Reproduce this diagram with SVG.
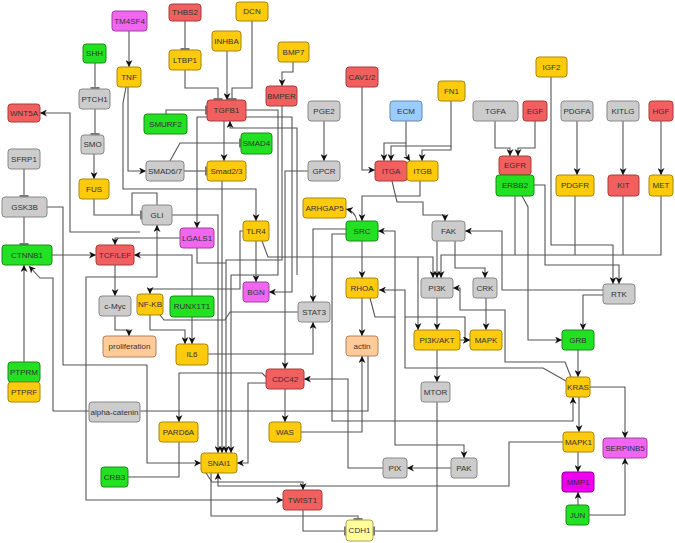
<svg xmlns="http://www.w3.org/2000/svg" width="675" height="543" viewBox="0 0 675 543">
<style>
.n rect{stroke-width:1;rx:3;ry:3}
.n text{font-family:"Liberation Sans",Arial,sans-serif;font-size:8px;fill:#333;text-anchor:middle;dominant-baseline:central}
.r rect{fill:#f25f5f;stroke:#a83c3c}
.y rect{fill:#fdca0c;stroke:#a8860a}
.g rect{fill:#22e022;stroke:#1a8a1a}
.s rect{fill:#cccccc;stroke:#888}
.m rect{fill:#f066f0;stroke:#a040a0}
.mm rect{fill:#ee00ee;stroke:#900090}
.p rect{fill:#ffcc99;stroke:#b08060}
.b rect{fill:#99ccff;stroke:#6688aa}
.ly rect{fill:#ffff99;stroke:#aaa060}
#edges path{fill:none;stroke:#555;stroke-width:1.1}
.a{marker-end:url(#ar)}
.t{marker-end:url(#tb)}
</style>
<defs>
<marker id="ar" viewBox="0 0 10 10" refX="10" refY="5" markerWidth="7" markerHeight="7" orient="auto" markerUnits="userSpaceOnUse"><path d="M0,0 L10,5 L0,10 L3,5 z" fill="#111"/></marker>
<marker id="ars" viewBox="0 0 10 10" refX="10" refY="5" markerWidth="7" markerHeight="7" orient="auto-start-reverse" markerUnits="userSpaceOnUse"><path d="M0,0 L10,5 L0,10 L3,5 z" fill="#111"/></marker>
<marker id="tb" viewBox="0 0 4 12" refX="3" refY="6" markerWidth="3" markerHeight="10" orient="auto" markerUnits="userSpaceOnUse"><rect x="0" y="0" width="4" height="12" fill="#777"/></marker>
</defs>
<g id="edges">
<path class="a" d="M129,31 V67"/>
<path class="t" d="M185,21 V50"/>
<path class="t" d="M95,63 V89"/>
<path class="t" d="M95,109 V135"/>
<path class="a" d="M94,154 V179"/>
<path class="a" d="M140,232 H70 V113 H40"/>
<path class="t" d="M24,169 V197"/>
<path class="t" d="M24,217 V245"/>
<path class="a" d="M47,207 H63 V365 H147 V463 H201"/>
<path class="a" d="M52,255 H96"/>
<path class="a" d="M24,362 V265"/>
<path class="a" d="M89,411 H53 V278 H40 L29,266"/>
<path d="M140,411 H368 V356"/>
<path class="a" d="M115,265 V296"/>
<path class="a" d="M115,316 V330 H129 V336"/>
<path class="a" d="M180,238 H115 V245"/>
<path class="a" d="M192,296 V255 H134"/>
<path class="a" d="M192,317 V344"/>
<path class="a" d="M150,315 V330 H185 V344"/>
<path class="a" d="M243,231 H240 V289 H150 V294"/>
<path d="M160,315 L164,320 H225 L230,312 H298"/>
<path class="a" d="M208,354 H313 V322"/>
<path class="a" d="M128,87 V171 H146"/>
<path class="a" d="M126,87 L123,103 V189 H256 V221"/>
<path class="t" d="M184,171 H207"/>
<path class="t" d="M170,161 L180,143 H241"/>
<path class="t" d="M166,114 V110 H207"/>
<path class="t" d="M252,21 V88 H232 V100"/>
<path class="a" d="M227,51 V100"/>
<path class="t" d="M185,70 V88 H218 V100"/>
<path class="a" d="M293,62 V72 H282 V86"/>
<path class="a" d="M207,117 H197 V228"/>
<path class="a" d="M224,121 V161"/>
<path class="a" d="M324,121 V161"/>
<path class="a" d="M362,87 V170 H375"/>
<path class="a" d="M406,121 V143 H384 V161"/>
<path class="a" d="M406,143 V155 L410,161"/>
<path class="a" d="M451,101 V146 H391 V161"/>
<path class="a" d="M451,146 V150 H422 V161"/>
<path class="a" d="M495,121 V148 H510 V156"/>
<path class="a" d="M535,121 V148 H518 V156"/>
<path class="a" d="M577,121 V175"/>
<path class="a" d="M623,121 V175"/>
<path class="a" d="M661,121 V175"/>
<path class="a" d="M551,77 V245 H613 V284"/>
<path class="a" d="M534,185 H545 V265 H619 V284"/>
<path d="M575,196 V255"/>
<path d="M623,196 V255"/>
<path d="M515,196 V255"/>
<path class="a" d="M661,196 V255 H441 V278"/>
<path class="a" d="M522,196 L528,207 V340 H562"/>
<path class="a" d="M603,290 H502 V231 H465"/>
<path class="a" d="M603,295 H583 V330"/>
<path class="a" d="M578,350 V377"/>
<path class="a" d="M571,377 L565,362 H505 V310 H460 V288 H453"/>
<path class="a" d="M590,387 H625 V438"/>
<path class="a" d="M346,234 H332 V421 H573 V397"/>
<path class="a" d="M579,397 V432"/>
<path class="a" d="M566,381 L543,368 H405 V290 H379"/>
<path class="a" d="M405,317 H465 V340 H470"/>
<path class="a" d="M578,452 V472"/>
<path class="a" d="M578,505 V492"/>
<path class="a" d="M589,515 H625 V458"/>
<path class="a" d="M563,442 H509 V486 H218 V473"/>
<path class="a" d="M206,473 L212,482 H303 V490"/>
<path style="marker-start:url(#ars);marker-end:url(#ars)" d="M157,225 V277 H86 V500 H283"/>
<path class="t" d="M211,473 V516 H358 V520"/>
<path class="t" d="M303,510 V531 H346"/>
<path class="t" d="M437,402 V531 H373"/>
<path class="a" d="M285,389 V422"/>
<path class="a" d="M266,377 L262,373 H179 V422"/>
<path class="a" d="M266,383 H248 V463 H237"/>
<path class="a" d="M383,468 H348 V379 H304"/>
<path class="a" d="M451,468 H407"/>
<path class="a" d="M370,298 L375,317 H395 V445 H464 V458"/>
<path class="a" d="M395,317 V231 H378"/>
<path d="M179,442 V477 H128"/>
<path class="a" d="M362,298 V336"/>
<path class="a" d="M301,432 H362 V356"/>
<path class="a" d="M362,241 V278"/>
<path class="a" d="M357,221 Q355,211 346,209"/>
<path class="a" d="M420,181 V196 H362 V221"/>
<path class="a" d="M392,181 L397,202 H423 V215 H445 V221"/>
<path class="a" d="M346,229 H313 V302"/>
<path class="a" d="M256,241 V282"/>
<path class="a" d="M262,241 L268,257 H433 V278"/>
<path class="a" d="M418,257 V330"/>
<path class="a" d="M437,298 V330"/>
<path class="a" d="M437,350 V382"/>
<path class="a" d="M486,298 V330"/>
<path class="a" d="M455,241 V268 H485 V278"/>
<path class="a" d="M437,241 V278"/>
<path class="a" d="M460,340 H470"/>
<path class="a" d="M308,171 H285 V369"/>
<path class="a" d="M246,117 H292 V292 H269"/>
<path class="a" d="M297,275 V128 H230 V121"/>
<path class="a" d="M246,110 H278 V275 H231 V453"/>
<path class="a" d="M282,106 V260 H226 V453"/>
<path class="a" d="M222,181 V453"/>
<path class="a" d="M172,215 H218 V453"/>
<path d="M197,248 V263 H226"/>
<path class="t" d="M94,199 V215 H142"/>
<path d="M157,205 V193 H132 V215"/>
</g>
<g id="TM4SF4" class="n m"><rect x="112" y="11" width="35" height="20"/><text x="129.5" y="21">TM4SF4</text></g>
<g id="THBS2" class="n r"><rect x="169" y="4" width="32" height="17"/><text x="185" y="12.5">THBS2</text></g>
<g id="DCN" class="n y"><rect x="236" y="2" width="32" height="19"/><text x="252" y="11.5">DCN</text></g>
<g id="INHBA" class="n y"><rect x="212" y="31" width="29" height="20"/><text x="226.5" y="41">INHBA</text></g>
<g id="SHH" class="n g"><rect x="83" y="44" width="23" height="19"/><text x="94.5" y="53.5">SHH</text></g>
<g id="BMP7" class="n y"><rect x="278" y="42" width="31" height="20"/><text x="293.5" y="52">BMP7</text></g>
<g id="TNF" class="n y"><rect x="117" y="67" width="24" height="20"/><text x="129" y="77">TNF</text></g>
<g id="LTBP1" class="n y"><rect x="169" y="50" width="32" height="20"/><text x="185" y="60">LTBP1</text></g>
<g id="CAV12" class="n r"><rect x="346" y="67" width="32" height="20"/><text x="362" y="77">CAV1/2</text></g>
<g id="IGF2" class="n y"><rect x="536" y="57" width="31" height="20"/><text x="551.5" y="67">IGF2</text></g>
<g id="FN1" class="n y"><rect x="438" y="81" width="27" height="20"/><text x="451.5" y="91">FN1</text></g>
<g id="BMPER" class="n r"><rect x="266" y="86" width="31" height="20"/><text x="281.5" y="96">BMPER</text></g>
<g id="PTCH1" class="n s"><rect x="79" y="89" width="31" height="20"/><text x="94.5" y="99">PTCH1</text></g>
<g id="PGE2" class="n s"><rect x="308" y="101" width="32" height="20"/><text x="324" y="111">PGE2</text></g>
<g id="ECM" class="n b"><rect x="390" y="101" width="32" height="20"/><text x="406" y="111">ECM</text></g>
<g id="TGFA" class="n s"><rect x="473" y="101" width="45" height="20"/><text x="495.5" y="111">TGFA</text></g>
<g id="EGF" class="n r"><rect x="523" y="101" width="24" height="20"/><text x="535" y="111">EGF</text></g>
<g id="PDGFA" class="n s"><rect x="561" y="101" width="32" height="20"/><text x="577" y="111">PDGFA</text></g>
<g id="KITLG" class="n s"><rect x="607" y="101" width="32" height="20"/><text x="623" y="111">KITLG</text></g>
<g id="HGF" class="n r"><rect x="649" y="101" width="24" height="20"/><text x="661" y="111">HGF</text></g>
<g id="TGFB1" class="n r"><rect x="207" y="100" width="39" height="21"/><text x="226.5" y="110.5">TGFB1</text></g>
<g id="WNT5A" class="n r"><rect x="8" y="104" width="32" height="18"/><text x="24" y="113">WNT5A</text></g>
<g id="SMURF2" class="n g"><rect x="144" y="114" width="43" height="20"/><text x="165.5" y="124">SMURF2</text></g>
<g id="SMO" class="n s"><rect x="81" y="135" width="23" height="19"/><text x="92.5" y="144.5">SMO</text></g>
<g id="SMAD4" class="n g"><rect x="241" y="133" width="31" height="21"/><text x="256.5" y="143.5">SMAD4</text></g>
<g id="SFRP1" class="n s"><rect x="8" y="149" width="32" height="20"/><text x="24" y="159">SFRP1</text></g>
<g id="EGFR" class="n r"><rect x="499" y="156" width="32" height="19"/><text x="515" y="165.5">EGFR</text></g>
<g id="SMAD67" class="n s"><rect x="146" y="161" width="38" height="20"/><text x="165" y="171">SMAD6/7</text></g>
<g id="Smad23" class="n y"><rect x="207" y="161" width="39" height="20"/><text x="226.5" y="171">Smad2/3</text></g>
<g id="GPCR" class="n s"><rect x="308" y="161" width="32" height="20"/><text x="324" y="171">GPCR</text></g>
<g id="ITGA" class="n r"><rect x="375" y="161" width="32" height="20"/><text x="391" y="171">ITGA</text></g>
<g id="ITGB" class="n y"><rect x="407" y="161" width="31" height="20"/><text x="422.5" y="171">ITGB</text></g>
<g id="ERBB2" class="n g"><rect x="496" y="175" width="38" height="21"/><text x="515" y="185.5">ERBB2</text></g>
<g id="PDGFR" class="n y"><rect x="556" y="175" width="38" height="21"/><text x="575" y="185.5">PDGFR</text></g>
<g id="KIT" class="n r"><rect x="608" y="175" width="31" height="21"/><text x="623.5" y="185.5">KIT</text></g>
<g id="MET" class="n y"><rect x="649" y="175" width="24" height="21"/><text x="661" y="185.5">MET</text></g>
<g id="FUS" class="n y"><rect x="79" y="179" width="30" height="20"/><text x="94" y="189">FUS</text></g>
<g id="GSK3B" class="n s"><rect x="2" y="197" width="45" height="20"/><text x="24.5" y="207">GSK3B</text></g>
<g id="ARHGAP5" class="n y"><rect x="303" y="198" width="43" height="20"/><text x="324.5" y="208">ARHGAP5</text></g>
<g id="GLI" class="n s"><rect x="142" y="205" width="30" height="20"/><text x="157" y="215">GLI</text></g>
<g id="SRC" class="n g"><rect x="346" y="221" width="32" height="20"/><text x="362" y="231">SRC</text></g>
<g id="TLR4" class="n y"><rect x="243" y="221" width="26" height="20"/><text x="256" y="231">TLR4</text></g>
<g id="FAK" class="n s"><rect x="432" y="221" width="33" height="20"/><text x="448.5" y="231">FAK</text></g>
<g id="LGALS1" class="n m"><rect x="180" y="228" width="34" height="20"/><text x="197" y="238">LGALS1</text></g>
<g id="CTNNB1" class="n g"><rect x="2" y="245" width="50" height="20"/><text x="27" y="255">CTNNB1</text></g>
<g id="TCFLEF" class="n r"><rect x="96" y="245" width="38" height="20"/><text x="115" y="255">TCF/LEF</text></g>
<g id="RHOA" class="n y"><rect x="346" y="278" width="32" height="20"/><text x="362" y="288">RHOA</text></g>
<g id="PI3K" class="n s"><rect x="421" y="278" width="32" height="20"/><text x="437" y="288">PI3K</text></g>
<g id="CRK" class="n s"><rect x="473" y="278" width="24" height="20"/><text x="485" y="288">CRK</text></g>
<g id="BGN" class="n m"><rect x="243" y="282" width="26" height="20"/><text x="256" y="292">BGN</text></g>
<g id="RTK" class="n s"><rect x="603" y="284" width="32" height="20"/><text x="619" y="294">RTK</text></g>
<g id="NFKB" class="n y"><rect x="137" y="294" width="26" height="21"/><text x="150" y="304.5">NF-KB</text></g>
<g id="cMyc" class="n s"><rect x="99" y="296" width="32" height="20"/><text x="115" y="306">c-Myc</text></g>
<g id="RUNX1T1" class="n g"><rect x="170" y="296" width="44" height="21"/><text x="192" y="306.5">RUNX1T1</text></g>
<g id="STAT3" class="n s"><rect x="298" y="302" width="32" height="20"/><text x="314" y="312">STAT3</text></g>
<g id="PI3KAKT" class="n y"><rect x="414" y="330" width="46" height="20"/><text x="437" y="340">PI3K/AKT</text></g>
<g id="MAPK" class="n y"><rect x="470" y="330" width="32" height="20"/><text x="486" y="340">MAPK</text></g>
<g id="GRB" class="n g"><rect x="562" y="330" width="32" height="20"/><text x="578" y="340">GRB</text></g>
<g id="proliferation" class="n p"><rect x="103" y="336" width="53" height="21"/><text x="129.5" y="346.5">proliferation</text></g>
<g id="actin" class="n p"><rect x="346" y="336" width="32" height="20"/><text x="362" y="346">actin</text></g>
<g id="IL6" class="n y"><rect x="176" y="344" width="32" height="21"/><text x="192" y="354.5">IL6</text></g>
<g id="PTPRM" class="n g"><rect x="8" y="362" width="32" height="20"/><text x="24" y="372">PTPRM</text></g>
<g id="CDC42" class="n r"><rect x="266" y="369" width="38" height="20"/><text x="285" y="379">CDC42</text></g>
<g id="KRAS" class="n y"><rect x="566" y="377" width="24" height="20"/><text x="578" y="387">KRAS</text></g>
<g id="PTPRF" class="n y"><rect x="8" y="382" width="32" height="20"/><text x="24" y="392">PTPRF</text></g>
<g id="MTOR" class="n s"><rect x="421" y="382" width="29" height="20"/><text x="435.5" y="392">MTOR</text></g>
<g id="alphacatenin" class="n s"><rect x="89" y="402" width="51" height="20"/><text x="114.5" y="412">alpha-catenin</text></g>
<g id="PARD6A" class="n y"><rect x="159" y="422" width="39" height="20"/><text x="178.5" y="432">PARD6A</text></g>
<g id="WAS" class="n y"><rect x="269" y="422" width="32" height="20"/><text x="285" y="432">WAS</text></g>
<g id="MAPK1" class="n y"><rect x="563" y="432" width="31" height="20"/><text x="578.5" y="442">MAPK1</text></g>
<g id="SERPINB5" class="n m"><rect x="603" y="438" width="44" height="20"/><text x="625" y="448">SERPINB5</text></g>
<g id="SNAI1" class="n y"><rect x="201" y="453" width="36" height="20"/><text x="219" y="463">SNAI1</text></g>
<g id="PIX" class="n s"><rect x="383" y="458" width="24" height="20"/><text x="395" y="468">PIX</text></g>
<g id="PAK" class="n s"><rect x="451" y="458" width="26" height="20"/><text x="464" y="468">PAK</text></g>
<g id="CRB3" class="n g"><rect x="101" y="467" width="27" height="20"/><text x="114.5" y="477">CRB3</text></g>
<g id="MMP1" class="n mm"><rect x="562" y="472" width="32" height="20"/><text x="578" y="482">MMP1</text></g>
<g id="TWIST1" class="n r"><rect x="283" y="490" width="39" height="20"/><text x="302.5" y="500">TWIST1</text></g>
<g id="JUN" class="n g"><rect x="566" y="505" width="23" height="20"/><text x="577.5" y="515">JUN</text></g>
<g id="CDH1" class="n ly"><rect x="346" y="520" width="27" height="21"/><text x="359.5" y="530.5">CDH1</text></g>
</svg>
